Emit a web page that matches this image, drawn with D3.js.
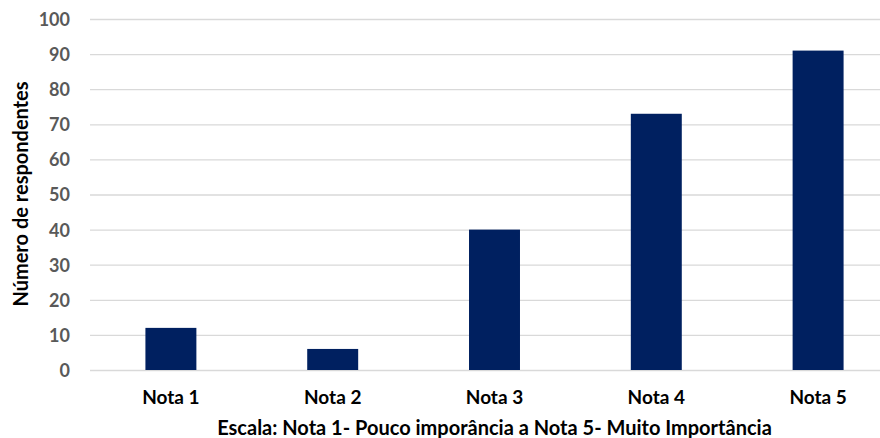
<!DOCTYPE html>
<html>
<head>
<meta charset="utf-8">
<script src="https://cdn.jsdelivr.net/npm/d3@7"></script>
<style>
  html, body { margin: 0; padding: 0; background: #fff; }
  svg { display: block; }
  text { font-family: Lato, "Open Sans", sans-serif; font-weight: 700; }
</style>
</head>
<body>
<svg id="chart" width="880" height="438"></svg>
<script>
// Respondents per score
const categories = ["Nota 1", "Nota 2", "Nota 3", "Nota 4", "Nota 5"];
const respondents = [12, 6, 40, 73, 91];
const yTicks = [0, 10, 20, 30, 40, 50, 60, 70, 80, 90, 100];
const xTitle = "Escala: Nota 1- Pouco imporância a Nota 5- Muito Importância";
const yTitle = "Número de respondentes";

const W = 880, H = 438;
const plot = { left: 90, right: 899, top: 19, bottom: 370 };

const svg = d3.select("#chart");

const x = d3.scaleBand()
  .domain(categories)
  .range([plot.left, plot.right])
  .paddingInner(0.685)
  .paddingOuter(0.3425);

const y = d3.scaleLinear()
  .domain([0, 100])
  .range([plot.bottom, plot.top]);

// Horizontal gridlines + tick labels
const yAxis = d3.axisLeft(y)
  .tickValues(yTicks)
  .tickSize(-(W - plot.left));

const gy = svg.append("g")
  .attr("transform", `translate(${plot.left},0)`)
  .call(yAxis);
gy.select(".domain").remove();
gy.selectAll(".tick line").attr("stroke", "#d9d9d9").attr("stroke-width", 1.3);
gy.selectAll(".tick text")
  .attr("fill", "#595959")
  .attr("font-size", 18)
  .attr("x", -20)
  .attr("dy", "0.36em");

// Bars
svg.append("g")
  .selectAll("rect")
  .data(categories.map((c, i) => ({ c, v: respondents[i] })))
  .join("rect")
  .attr("x", d => x(d.c))
  .attr("width", x.bandwidth())
  .attr("y", d => y(d.v))
  .attr("height", d => y(0) - y(d.v))
  .attr("fill", "#002060");

// Category labels
const xAxis = d3.axisBottom(x).tickSize(0);
const gx = svg.append("g")
  .attr("transform", `translate(0,${plot.bottom})`)
  .call(xAxis);
gx.select(".domain").remove();
gx.selectAll(".tick text")
  .attr("fill", "#000")
  .attr("font-size", 19)
  .attr("y", 34)
  .attr("dy", 0);

// Axis titles
svg.append("text")
  .attr("x", (plot.left + plot.right) / 2)
  .attr("y", 435)
  .attr("text-anchor", "middle")
  .attr("font-size", 20)
  .attr("fill", "#000")
  .text(xTitle);

svg.append("text")
  .attr("transform", `translate(28,194) rotate(-90)`)
  .attr("text-anchor", "middle")
  .attr("font-size", 20)
  .attr("fill", "#000")
  .text(yTitle);
</script>
</body>
</html>
